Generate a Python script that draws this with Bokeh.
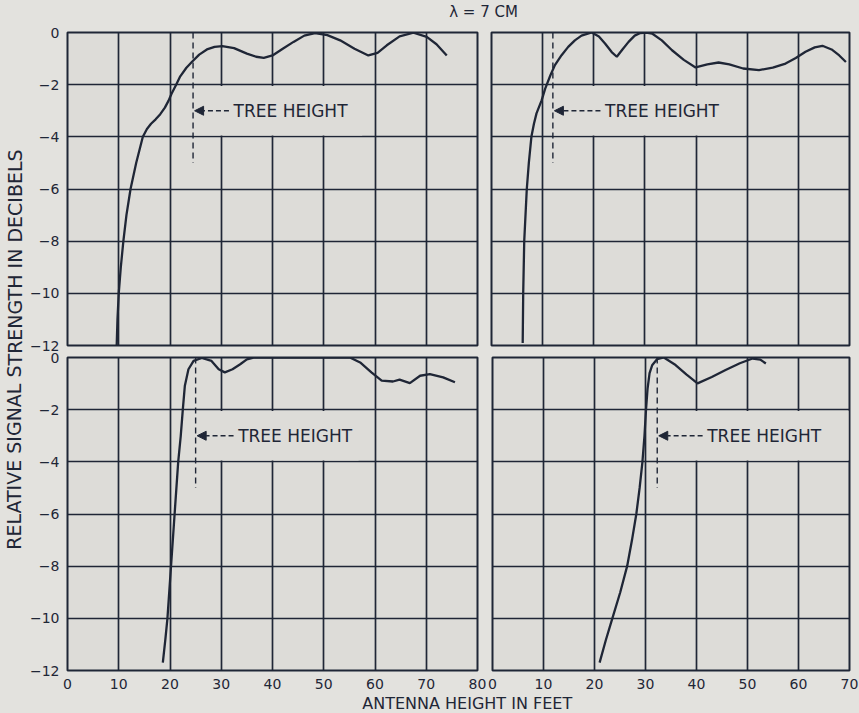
from bokeh.plotting import figure
from bokeh.layouts import column, row
from bokeh.models import FixedTicker, Label, Arrow, NormalHead
from bokeh.embed import file_html
from bokeh.resources import INLINE

# ---------------- data ----------------
title_text = "λ = 7 CM"
x_axis_title = "ANTENNA   HEIGHT   IN   FEET"
y_axis_title = "RELATIVE  SIGNAL  STRENGTH  IN  DECIBELS"
tree_label = "TREE  HEIGHT"

x_ticks_left = [0, 10, 20, 30, 40, 50, 60, 70, 80]
x_ticks_right = [0, 10, 20, 30, 40, 50, 60, 70]
y_ticks = [0, -2, -4, -6, -8, -10, -12]
y_tick_labels = ["0", "−2", "−4", "−6", "−8", "−10", "−12"]

# top-left panel
tl_height = [9.6, 9.75, 10.0, 10.4, 10.9, 11.5, 12.3, 13.4, 14.7, 15.5, 16.3, 17.2, 18.1, 19.0, 19.7,
             20.3, 21.2, 22.0, 23.2, 24.3, 25.7, 27.2, 28.7, 30.2, 32.5, 35.0, 36.8, 38.3, 40.0, 42.0,
             44.1, 46.2, 48.3, 50.7, 53.2, 56.0, 58.7, 60.5, 62.3, 64.8, 67.5, 70.1, 72.0, 74.0]
tl_signal = [-12.0, -11.0, -10.0, -9.0, -8.0, -7.0, -6.0, -5.0, -4.0, -3.7, -3.5, -3.33, -3.13, -2.88, -2.62,
             -2.35, -2.0, -1.68, -1.35, -1.12, -0.85, -0.65, -0.55, -0.52, -0.6, -0.81, -0.93, -0.97, -0.88, -0.62,
             -0.36, -0.12, -0.02, -0.1, -0.3, -0.62, -0.88, -0.78, -0.49, -0.15, -0.01, -0.17, -0.45, -0.88]

# top-right panel
tr_height = [6.1, 6.2, 6.4, 6.9, 7.3, 7.8, 8.3, 8.8, 9.8, 10.5, 11.5, 12.4, 13.7, 15.0, 16.3, 17.6, 19.6,
             21.0, 22.2, 23.5, 24.5, 25.6, 26.8, 28.0, 29.1, 30.3, 31.4, 33.3, 35.3, 37.6, 39.9, 42.2, 44.4,
             46.5, 49.2, 52.3, 55.0, 57.5, 59.5, 61.4, 63.2, 64.7, 66.5, 68.0, 69.3]
tr_signal = [-11.9, -10.0, -8.0, -6.0, -5.0, -4.0, -3.5, -3.1, -2.6, -2.15, -1.65, -1.25, -0.87, -0.55, -0.3, -0.12, 0.0,
             -0.15, -0.42, -0.75, -0.93, -0.65, -0.36, -0.12, -0.02, 0.0, -0.04, -0.3, -0.68, -1.05, -1.34, -1.22, -1.15,
             -1.22, -1.38, -1.44, -1.35, -1.19, -0.98, -0.74, -0.57, -0.51, -0.65, -0.88, -1.13]

# bottom-left panel
bl_height = [18.6, 19.1, 19.5, 20.2, 20.9, 21.6, 22.1, 22.5, 22.9, 23.6, 24.6, 26.2, 28.1, 29.5, 30.7, 32.2,
             33.7, 35.0, 36.5, 55.1, 57.1, 59.3, 61.3, 63.5, 64.8, 66.8, 68.8, 70.7, 73.3, 75.6]
bl_signal = [-11.7, -10.8, -10.0, -8.0, -6.0, -4.0, -3.0, -2.0, -1.08, -0.45, -0.13, -0.02, -0.13, -0.45, -0.57, -0.45,
             -0.26, -0.07, 0.0, 0.0, -0.19, -0.57, -0.89, -0.92, -0.85, -0.98, -0.7, -0.64, -0.76, -0.95]

# bottom-right panel
br_height = [21.0, 22.2, 23.5, 25.05, 26.4, 27.35, 28.2, 28.85, 29.4, 29.8, 30.1, 30.4, 30.8, 31.3, 32.3, 33.6,
             35.9, 38.0, 40.2, 43.0, 45.7, 48.5, 51.0, 52.5, 53.6]
br_signal = [-11.7, -10.85, -10.0, -9.0, -8.0, -7.0, -6.0, -5.0, -4.0, -3.0, -2.0, -1.2, -0.6, -0.3, -0.06, 0.0,
             -0.29, -0.65, -0.99, -0.75, -0.48, -0.22, -0.04, -0.08, -0.23]

# tree height markers: x of dashed line, x where label starts, x where label box ends
tree_heights = [24.5, 12.0, 25.0, 32.3]
tree_text_x = [32.4, 22.2, 33.3, 42.1]
tree_box_end = [57.5, 49.6, 56.8, 69.8]
tree_line_span = [0, -5]
tree_arrow_y = -3
tree_box_span = [-2.05, -3.95]

# ---------------- style ----------------
BG = "#e3e2de"
PANEL = "#dddcd8"
INK = "#1f2636"
FONT = "DejaVu Sans"

y_overrides = {t: l for t, l in zip(y_ticks, y_tick_labels)}


def panel(xmax, xticks, xs, ys, idx, show_x, show_y, size, borders, transparent=False):
    w, h = size
    bl, br, bt, bb = borders
    p = figure(width=w, height=h, x_range=(0, xmax), y_range=(-12, 0),
               output_backend="svg", toolbar_location=None, title=None,
               min_border_left=bl, min_border_right=br, min_border_top=bt, min_border_bottom=bb)
    p.background_fill_color = PANEL
    p.border_fill_color = BG
    if transparent:
        p.border_fill_alpha = 0
    p.outline_line_color = INK
    p.outline_line_width = 2
    p.outline_line_alpha = 1

    p.xgrid.ticker = FixedTicker(ticks=xticks)
    p.ygrid.ticker = FixedTicker(ticks=y_ticks)
    for g in (p.xgrid, p.ygrid):
        g.grid_line_color = INK
        g.grid_line_width = 1.7
        g.grid_line_alpha = 1

    for ax in (p.xaxis, p.yaxis):
        ax.axis_line_color = None
        ax.major_tick_line_color = None
        ax.minor_tick_line_color = None
        ax.major_tick_out = 0
        ax.major_tick_in = 0
        ax.minor_tick_out = 0
        ax.minor_tick_in = 0
        ax.major_label_text_font = FONT
        ax.major_label_text_font_size = "14px"
        ax.major_label_text_color = INK
    p.xaxis.ticker = FixedTicker(ticks=xticks)
    p.xaxis.major_label_standoff = 8
    p.yaxis.ticker = FixedTicker(ticks=y_ticks)
    p.yaxis.major_label_overrides = y_overrides
    p.yaxis.major_label_standoff = 8
    p.xaxis.visible = show_x
    p.yaxis.visible = show_y

    th = tree_heights[idx]
    # label box hiding the grid
    p.quad(left=[th], right=[tree_box_end[idx]], top=[tree_box_span[0]], bottom=[tree_box_span[1]],
           fill_color=PANEL, line_color=None)
    # dashed tree-height line
    p.line([th, th], tree_line_span, line_color=INK, line_width=1.4, line_dash="6 4")
    # arrow
    p.add_layout(Arrow(end=NormalHead(size=9, fill_color=INK, line_color=INK),
                       x_start=tree_text_x[idx] - 0.9, y_start=tree_arrow_y,
                       x_end=th + 0.3, y_end=tree_arrow_y,
                       line_color=INK, line_width=1.4, line_dash="5 3"))
    p.add_layout(Label(x=tree_text_x[idx], y=tree_arrow_y, text=tree_label,
                       text_font=FONT, text_font_size="17px", text_color=INK,
                       text_baseline="middle", text_align="left"))
    # the curve
    p.line(xs, ys, line_color=INK, line_width=2.3)
    return p


# canvas sizes: top panels 10 + 313 + 12 tall, bottom panels 12 + 313 + 25 tall
tl = panel(80, x_ticks_left, tl_height, tl_signal, 0, False, True, (458, 335), (41, 7, 10, 12))
tr = panel(70, x_ticks_right, tr_height, tr_signal, 1, False, False, (375, 335), (7, 10, 10, 12))
bl = panel(80, x_ticks_left, bl_height, bl_signal, 2, True, True, (460, 350), (41, 9, 12, 25), transparent=True)
br = panel(70, x_ticks_right, br_height, br_signal, 3, True, False, (373, 350), (6, 10, 12, 25), transparent=True)


def strip(w, h):
    s = figure(width=w, height=h, output_backend="svg", toolbar_location=None, title=None,
               min_border=0, x_range=(0, 1), y_range=(0, 1))
    s.axis.visible = False
    s.grid.visible = False
    s.outline_line_color = None
    s.background_fill_color = BG
    s.border_fill_color = BG
    return s


top = strip(859, 22)
top.add_layout(Label(x=483, y=11, x_units="screen", y_units="screen", text=title_text,
                     text_font=FONT, text_font_size="15px", text_color=INK,
                     text_align="center", text_baseline="middle"))

left = strip(26, 673)
left.add_layout(Label(x=14, y=358, x_units="screen", y_units="screen", text=y_axis_title,
                      angle=1.5707963, text_font=FONT, text_font_size="19px", text_color=INK,
                      text_align="center", text_baseline="middle"))

bottom = strip(859, 18)
bottom.add_layout(Label(x=482, y=10, x_units="screen", y_units="screen", text=x_axis_title,
                        text_font=FONT, text_font_size="16px", text_color=INK,
                        text_align="center", text_baseline="alphabetic"))

top_row = row(tl, tr, spacing=0, width=833, height=335)
bottom_row = row(bl, br, spacing=0, width=833, height=350, margin=(-12, 0, 0, 0))
grid = column(top_row, bottom_row, spacing=0, width=833, height=673,
              styles={"background-color": BG})
middle = row(left, grid, spacing=0, width=859, height=673)
layout = column(top, middle, bottom, spacing=0, width=859, height=713,
                styles={"background-color": BG})

open("out.html", "w").write(file_html(layout, INLINE))
